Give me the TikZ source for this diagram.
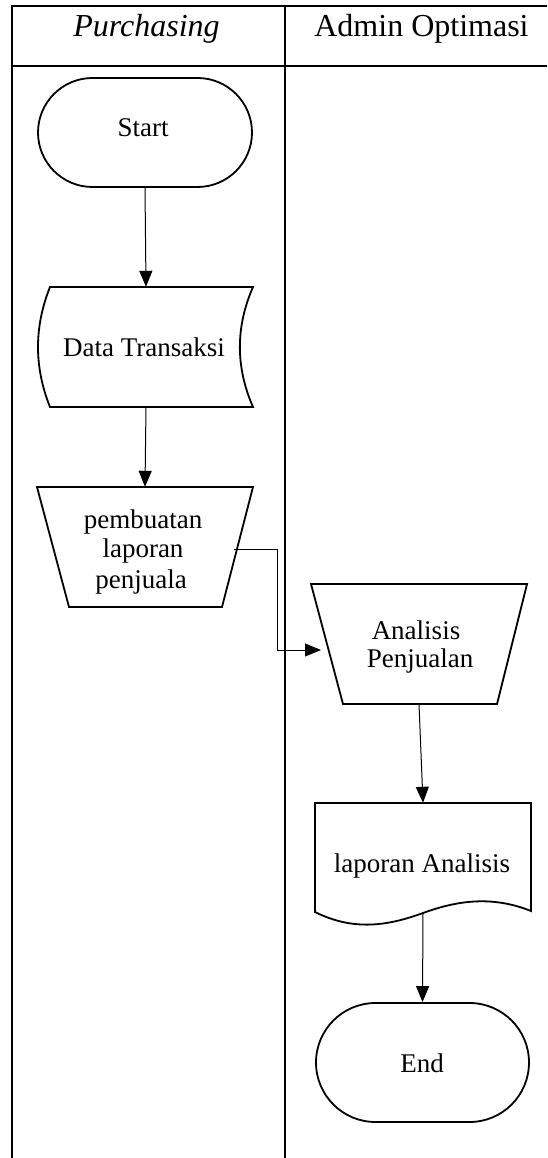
\documentclass[tikz,border=0pt]{standalone}
\usepackage{fontspec}
\setmainfont{Liberation Serif}
\usetikzlibrary{arrows.meta,shapes.misc}

\tikzset{
  grid/.style={line width=2pt},
  outline/.style={line width=1.8pt, line join=miter},
  terminal/.style={rounded rectangle, draw, outline, inner sep=0pt},
  holder/.style={inner sep=0pt, draw=none},
  label/.style={anchor=base, inner sep=0pt, font=\fontsize{27}{30}\selectfont},
  head/.style={anchor=base, inner sep=0pt, font=\fontsize{32}{38}\selectfont},
  flow/.style={line width=1pt, -{Triangle[length=16pt,width=13pt]}},
}

\begin{document}
\begin{tikzpicture}[x=1pt,y=-1pt]
\useasboundingbox (0,0) rectangle (547,1158);

% swimlane grid
\draw[grid] (12,6) -- (547,6);
\draw[grid] (12,66) -- (547,66);
\draw[grid] (12,5) -- (12,1158);
\draw[grid] (285,5) -- (285,1158);
\node[head] (laneA) at (146.5,37) {\itshape Purchasing};
\node[head] (laneB) at (421.5,37) {Admin Optimasi};

% terminals
\node[terminal, minimum width=214pt, minimum height=109pt] (start) at (145,132.5) {};
\node[label] (startT) at (143,137) {Start};
\node[terminal, minimum width=213pt, minimum height=119pt] (end) at (422.5,1062.5) {};
\node[label] (endT) at (422,1072) {End};

% stored data
\node[holder, minimum width=203pt, minimum height=120pt] (data) at (146,347) {};
\draw[outline] (50,287) -- (253,287)
  .. controls (235.5,327) and (235.5,367) .. (253,407) -- (50,407)
  .. controls (34,367) and (34,327) .. (50,287) -- cycle;
\node[label] (dataT) at (144,356) {Data Transaksi};

% manual operation: report preparation
\node[holder, minimum width=216pt, minimum height=120pt] (buat) at (145,547) {};
\draw[outline] (37,487) -- (253,487) -- (222,607) -- (69,607) -- cycle;
\node[label] (buatT1) at (143,528) {pembuatan};
\node[label] (buatT2) at (143,557) {laporan};
\node[label] (buatT3) at (141,588) {penjuala};
\coordinate (buatE) at (234,549);

% manual operation: sales analysis
\node[holder, minimum width=216pt, minimum height=120pt] (ana) at (419,644) {};
\draw[outline] (311,584) -- (527,584) -- (497,704) -- (343,704) -- cycle;
\node[label] (anaT1) at (416,639) {Analisis};
\node[label] (anaT2) at (420,667) {Penjualan};
\coordinate (anaW) at (321,650);

% document
\node[holder, minimum width=216pt, minimum height=110pt] (lap) at (423,858) {};
\draw[outline] (315,803) -- (531,803) -- (531,911)
  .. controls (491,895) and (456,901) .. (423,913)
  .. controls (390,925) and (355,932) .. (315,912) -- cycle;
\node[label] (lapT) at (422,872) {laporan Analisis};

% connectors
\draw[flow] (start.south) -- (data.north);
\draw[flow] (data.south) -- (buat.north);
\draw[flow] (buatE) -- (277,549) -- (277,650) -- (anaW);
\draw[flow] (ana.south) -- (lap.north);
\draw[flow] (lap.south) -- (end.north);
\end{tikzpicture}
\end{document}
